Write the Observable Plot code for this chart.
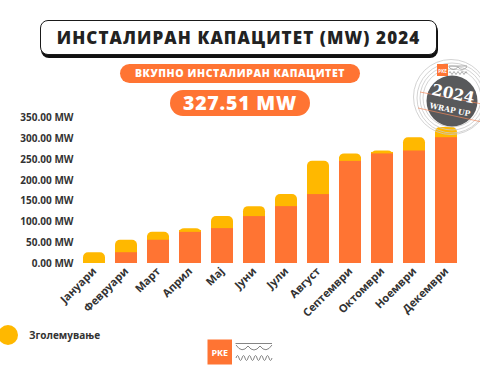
<!DOCTYPE html>
<html><head><meta charset="utf-8">
<script src="https://cdn.jsdelivr.net/npm/d3@7"></script>
<script src="https://cdn.jsdelivr.net/npm/@observablehq/plot@0.6"></script>
<style>
body{margin:0;width:480px;height:384px;position:relative;background:#fff;font-family:"Open Sans",sans-serif;overflow:hidden}
.abs{position:absolute}
#title{left:40px;top:20px;width:397px;height:35px;box-sizing:border-box;border:1.5px solid #1a1a1a;border-radius:8px;box-shadow:1px 3px 0 #111;display:flex;align-items:center;justify-content:center;font-weight:800;font-size:17px;letter-spacing:1.1px;color:#222;background:#fff}
.pill{background:#FF7433;color:#fff;display:flex;align-items:center;justify-content:center;font-weight:800}
#pill1{left:120px;top:64px;width:240px;height:18.5px;border-radius:10px;font-size:10.5px;letter-spacing:0.6px}
#pill2{left:170px;top:89.5px;width:140px;height:26.5px;border-radius:14px;font-size:19.5px;letter-spacing:0.8px}
#chart{left:0;top:100px}
#legend-dot{left:-2px;top:325px;width:20px;height:20px;border-radius:50%;background:#FFB800}
#legend-text{left:29px;top:328px;font-size:10px;font-weight:700;color:#333}
svg.deco{position:absolute;left:0;top:0;overflow:visible}
</style></head><body>
<div id="title" class="abs">ИНСТАЛИРАН КАПАЦИТЕТ (MW) 2024</div>
<div id="pill1" class="abs pill">ВКУПНО ИНСТАЛИРАН КАПАЦИТЕТ</div>
<div id="pill2" class="abs pill">327.51 MW</div>
<div id="chart" class="abs"></div>
<div id="legend-dot" class="abs"></div>
<div id="legend-text" class="abs">Зголемување</div>
<svg class="deco" width="480" height="384" viewBox="0 0 480 384">
  <!-- badge -->
  <g fill="none" stroke="#c8c8c8" stroke-width="0.8">
    <circle cx="452" cy="98" r="29"/>
    <circle cx="452" cy="98" r="32"/>
    <circle cx="452" cy="98" r="35"/>
    <circle cx="451" cy="97" r="37.5"/>
  </g>
  <circle cx="452" cy="101" r="25.5" fill="#58595b"/>
  <g stroke="#f08a5d" stroke-width="0.7">
    <line x1="420" y1="92" x2="482" y2="104"/>
    <line x1="418" y1="108" x2="482" y2="122"/>
  </g>
  <g transform="rotate(12 452 100)" fill="#fff" font-family="DejaVu Serif, serif" font-weight="700" text-anchor="middle">
    <text x="452" y="99" font-size="15.5">2024</text>
    <text x="452" y="112.5" font-size="7.6">WRAP UP</text>
  </g>
  <rect x="437" y="64" width="11" height="12" fill="#FF7433"/>
  <text x="442.5" y="72.5" font-size="4.5" fill="#fff" font-weight="700" text-anchor="middle">PKE</text>
  <g fill="none" stroke="#777" stroke-width="0.6">
    <line x1="449" y1="66" x2="467" y2="66"/>
    <path d="M449 67 Q453 72 458 67 Q462 72 467 67"/>
    <path d="M449 73 q1 -3 2 0 q1 3 2 0 q1 -3 2 0 q1 3 2 0 q1 -3 2 0 q1 3 2 0 q1 -3 2 0 q1 3 2 0 q1 -3 2 0"/>
  </g>
  <!-- footer logo -->
  <rect x="207.5" y="339.5" width="24.5" height="25" fill="#FF7433"/>
  <text x="219.8" y="355.5" font-size="9" fill="#fff" font-weight="700" text-anchor="middle" font-family="Open Sans, sans-serif">PKE</text>
  <g fill="none" stroke="#777" stroke-width="0.9">
    <line x1="235.5" y1="343.5" x2="272" y2="343.5"/>
    <path d="M236 345 Q242 354 248 346 Q254 354 260 346 Q266 354 272 345"/>
    <path d="M236 358 q1.5 -5 3 0 q1.5 5 3 0 q1.5 -5 3 0 q1.5 5 3 0 q1.5 -5 3 0 q1.5 5 3 0 q1.5 -5 3 0 q1.5 5 3 0 q1.5 -5 3 0 q1.5 5 3 0 q1.5 -5 3 0 q1.5 5 3 0"/>
  </g>
</svg>
<script>
const months = ["Јануари","Февруари","Март","Април","Мај","Јуни","Јули","Август","Септември","Октомври","Ноември","Декември"];
// capacity installed at the start of each month (orange)
const installed = [0, 26, 56, 75, 84, 113, 137, 166, 246, 264, 271, 303];
// increase during the month (yellow)
const increase = [26, 30, 19, 9, 29, 24, 29, 80, 18, 7, 32, 24.51];
const yTicks = [0, 50, 100, 150, 200, 250, 300, 350];
const ORANGE = "#FF7433", YELLOW = "#FFB800";

const data = months.map((m, i) => ({month: m, base: installed[i], inc: increase[i], total: installed[i] + increase[i]}));

const chart = Plot.plot({
  width: 480, height: 215,
  marginLeft: 77, marginRight: 16, marginTop: 17.7, marginBottom: 52,
  x: {domain: months, paddingInner: 0.3, paddingOuter: 0.15, label: null},
  y: {domain: [0, 350], label: null},
  style: {fontFamily: "Open Sans, sans-serif", background: "transparent", overflow: "visible"},
  marks: [
    Plot.barY(data, {x: "month", y1: 0, y2: "total", fill: YELLOW, rx: 5}),
    Plot.barY(data, {x: "month", y1: 0, y2: d => (d.base + d.total) / 2, fill: YELLOW}),
    Plot.barY(data, {x: "month", y1: 0, y2: "base", fill: ORANGE}),
    Plot.axisY({ticks: yTicks, tickSize: 0, tickPadding: 4, tickFormat: d => d.toFixed(2) + " MW", fontSize: 10, fontWeight: 700, fill: "#333", label: null}),
    Plot.axisX({tickSize: 0, tickRotate: -45, tickPadding: 6, fontSize: 11, fontWeight: 700, fill: "#333", label: null})
  ]
});
document.getElementById("chart").appendChild(chart);
</script>
</body></html>
